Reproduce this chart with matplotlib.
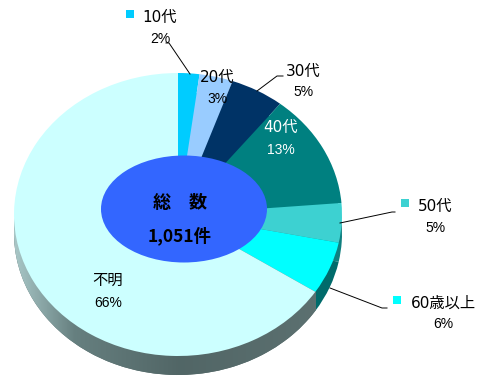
import matplotlib
matplotlib.use("Agg")
import matplotlib.pyplot as plt
from matplotlib.patches import Ellipse
import numpy as np

W, H = 489, 378
CX, CY, RX, RY = 178, 214.5, 164, 141.5
DEPTH = 19

# slices, clockwise from the top
ages = ["10代", "20代", "30代", "40代", "50代", "60歳以上", "不明"]
shares = [2.1, 3.3, 5.3, 13.0, 4.5, 6.0, 65.8]
share_labels = ["2%", "3%", "5%", "13%", "5%", "6%", "66%"]
colors = ["#00CCFF", "#99CCFF", "#003366", "#008080", "#3DD1D1", "#00FFFF", "#CCFFFF"]
rim_colors = ["#00CCFF", "#99CCFF", "#003366", "#008080", "#0F7F7F", "#006B6B", "#556B6B"]
total_title = "総　数"
total_value = "1,051件"

# gradient on the side of the big slice, left to right
rim_stops = [0, 0.2, 0.55, 1]
rim_grey = [(0.66, 0.78, 0.78), (0.40, 0.50, 0.50), (0.32, 0.40, 0.40), (0.36, 0.44, 0.44)]

CJK = ["Noto Sans CJK JP", "DejaVu Sans"]
NAME = ["DejaVu Sans", "Noto Sans CJK JP"]
PCT = ["Liberation Sans Narrow", "Liberation Sans", "DejaVu Sans"]


def px(x, y):
    # picture pixels to the pie's data units
    return (x - CX) / RX, (CY - y) / RY


fig = plt.figure(figsize=(W / 100, H / 100), dpi=100)
ax = fig.add_axes([0, 0, 1, 1])

# side of the pie: same slices, moved down
rim, _ = ax.pie(shares, colors=rim_colors, startangle=90, counterclock=False, radius=1,
                center=(0, -DEPTH / RY), wedgeprops={"linewidth": 0})

# grey side stops straight under the edge of the big slice
disc = Ellipse((0, -DEPTH / RY), 2, 2, facecolor="none", edgecolor="none")
ax.add_patch(disc)
seam = px(316, 0)[0]
xs = np.linspace(0, 1, 256)
grad = np.stack([np.interp(xs, rim_stops, [c[i] for c in rim_grey]) for i in range(3)], axis=-1)
im = ax.imshow(grad[np.newaxis, :, :], extent=(-1, seam, -1.2, 0), aspect="auto", zorder=1.5)
im.set_clip_path(disc)

# top of the pie
ax.pie(shares, colors=colors, startangle=90, counterclock=False, radius=1,
       wedgeprops={"linewidth": 0, "zorder": 2})

ax.set_aspect("auto")
ax.set_xlim(px(0, 0)[0], px(W, 0)[0])
ax.set_ylim(px(0, H)[1], px(0, 0)[1])
ax.axis("off")

# centre badge
c = px(184, 209)
ax.add_patch(Ellipse(c, 166 / RX, 107 / RY, facecolor="#3366FF", edgecolor="none", zorder=3))
ax.text(*px(180, 203), total_title, family=CJK, fontsize=13, fontweight="bold", color="black",
        ha="center", va="center", zorder=4)
ax.text(*px(180, 236), total_value, family=CJK, fontsize=12.5, fontweight="bold", color="black",
        ha="center", va="center", zorder=4)

# leader lines
leaders = [
    [(166, 43), (169, 43), (190, 74)],
    [(283, 76), (277, 76), (257, 91)],
    [(340, 223), (392, 212), (395, 212)],
    [(330, 288), (382, 308), (387, 308)],
]
for pts in leaders:
    p = [px(*q) for q in pts]
    ax.plot([q[0] for q in p], [q[1] for q in p], color="black", lw=0.7, zorder=5)

# legend keys beside some labels
for (x, y), col in [((130, 14), colors[0]), ((405, 203), colors[4]), ((397, 300), colors[5])]:
    ax.plot(*px(x, y), marker="s", ms=5.8, mew=0, color=col, zorder=5)

# labels: name position, percent position
name_pos = [(160, 17), (217, 77), (303, 71), (281, 127), (435, 206), (443, 303), (108, 280)]
pct_pos = [(160, 39), (217, 99), (303, 92), (281, 150), (435, 228), (443, 324), (108, 303)]
for i, age in enumerate(ages):
    col = "white" if age == "40代" else "black"
    ax.text(*px(*name_pos[i]), age, family=NAME, fontsize=11, color=col,
            ha="center", va="center", zorder=6)
    ax.text(*px(*pct_pos[i]), share_labels[i], family=PCT, fontsize=10, color=col,
            ha="center", va="center", zorder=6)

fig.savefig("out.png", dpi=100, facecolor="white")
